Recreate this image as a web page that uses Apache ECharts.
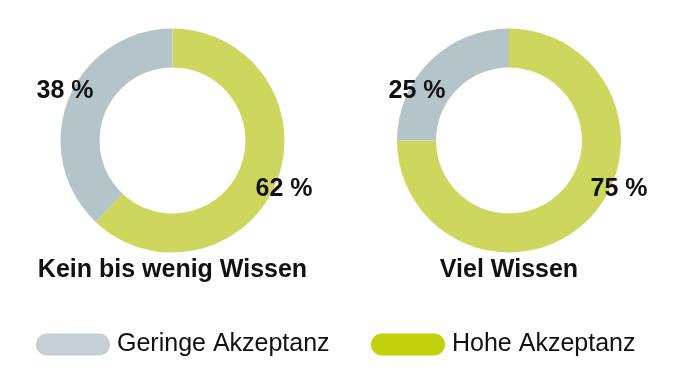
<!DOCTYPE html>
<html>
<head>
<meta charset="utf-8">
<script src="https://cdn.jsdelivr.net/npm/echarts@6/dist/echarts.min.js"></script>
<style>
html,body{margin:0;padding:0;background:#fff;}
#c{width:684px;height:390px;}
</style>
</head>
<body>
<div id="c"></div>
<script>
// Data
const groups = ['Kein bis wenig Wissen', 'Viel Wissen'];
const seriesNames = ['Hohe Akzeptanz', 'Geringe Akzeptanz'];
const hoheValues = [62, 75];
const geringeValues = [38, 25];

// Style / layout
const pieColors = { 'Hohe Akzeptanz': '#cdd75e', 'Geringe Akzeptanz': '#b4c4c9' };
const legendColors = { 'Hohe Akzeptanz': '#c3d00c', 'Geringe Akzeptanz': '#c5d0d5' };
const centers = [[172.5, 140.5], [509, 140.5]];
// label centers per donut: [hohe, geringe]
const labelPos = [[[284, 189], [65, 91]], [[619, 189], [417, 91]]];
const FONT = '"Liberation Sans", Arial, Helvetica, sans-serif';

const chart = echarts.init(document.getElementById('c'), null, { renderer: 'canvas' });

const series = groups.map((g, gi) => ({
  type: 'pie',
  name: g,
  center: centers[gi],
  radius: [73, 112],
  startAngle: 90,
  clockwise: true,
  silent: true,
  animation: false,
  label: {
    show: true,
    position: 'inside',
    overflow: 'none',
    formatter: '{c} %',
    fontSize: 25,
    fontWeight: 'bold',
    fontFamily: FONT,
    color: '#111'
  },
  labelLine: { show: false },
  labelLayout: function (params) {
    const p = labelPos[gi][params.dataIndex];
    return { x: p[0], y: p[1], align: 'center', verticalAlign: 'middle', hideOverlap: false };
  },
  data: [
    { name: seriesNames[0], value: hoheValues[gi], itemStyle: { color: pieColors[seriesNames[0]] } },
    { name: seriesNames[1], value: geringeValues[gi], itemStyle: { color: pieColors[seriesNames[1]] } }
  ]
}));

const pillIcon = 'path://M11,0 L63,0 A11,11 0 0 1 63,22 L11,22 A11,11 0 0 1 11,0 Z';
const legendCommon = {
  orient: 'horizontal',
  top: 332,
  padding: 0,
  itemWidth: 74,
  itemHeight: 22,
  itemGap: 8,
  icon: pillIcon,
  selectedMode: false,
  textStyle: { fontSize: 25, fontFamily: FONT, color: '#111', lineHeight: 22, padding: [0, 0, 0, 2] }
};

chart.setOption({
  backgroundColor: '#fff',
  animation: false,
  title: groups.map((g, gi) => ({
    text: g,
    left: centers[gi][0],
    textAlign: 'center',
    top: 258,
    padding: 0,
    textStyle: { fontSize: 25, fontWeight: 'bold', fontFamily: FONT, color: '#111' }
  })),
  legend: [
    Object.assign({}, legendCommon, {
      left: 36,
      data: [{ name: seriesNames[1], itemStyle: { color: legendColors[seriesNames[1]] } }]
    }),
    Object.assign({}, legendCommon, {
      left: 371,
      data: [{ name: seriesNames[0], itemStyle: { color: legendColors[seriesNames[0]] } }]
    })
  ],
  series: series
});
</script>
</body>
</html>
